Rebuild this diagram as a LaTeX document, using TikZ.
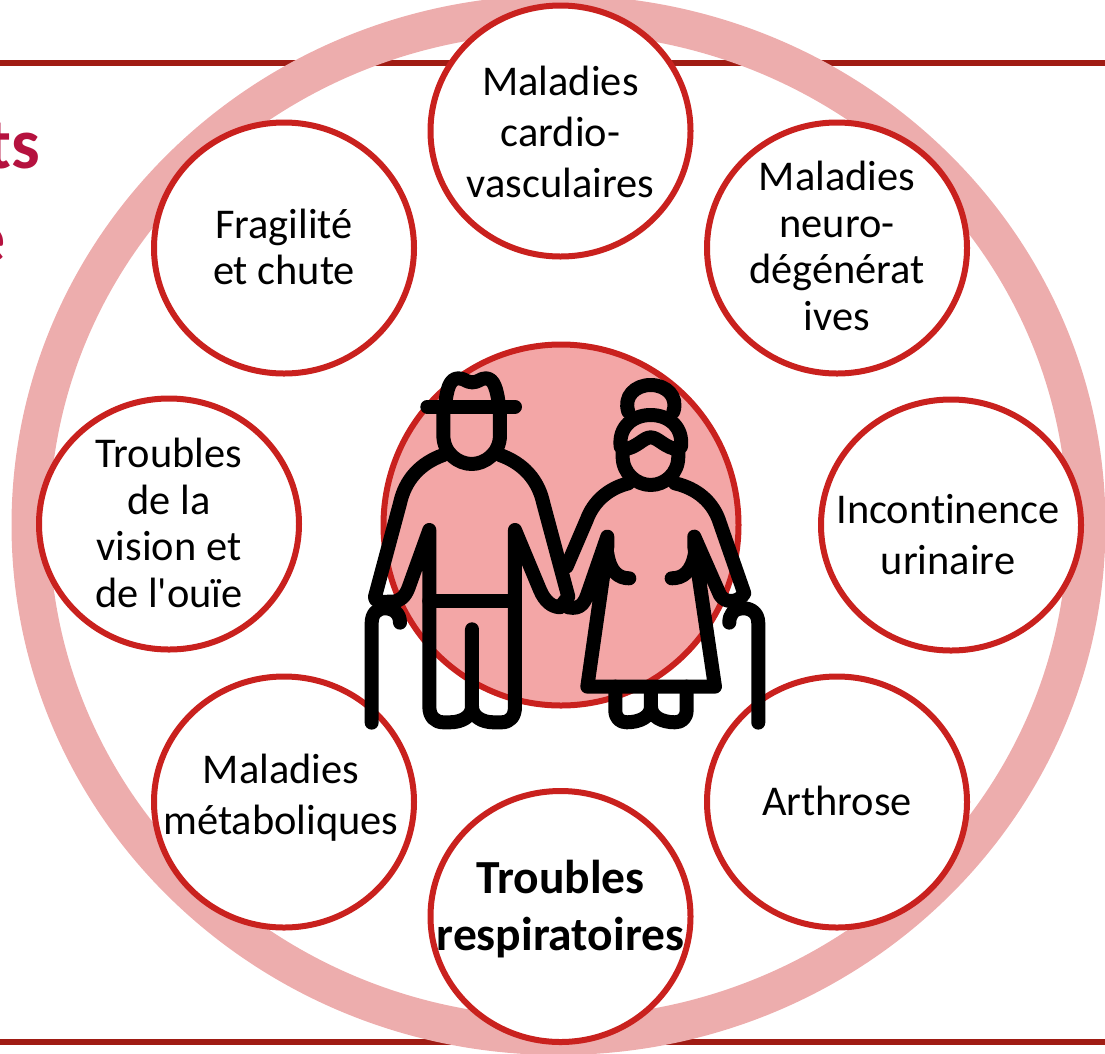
\documentclass[tikz,border=0pt]{standalone}
\usepackage{fontspec}
\setmainfont{Carlito}[Ligatures=NoCommon]
\usetikzlibrary{calc}
\usetikzlibrary{shapes.geometric}
\definecolor{ringpink}{HTML}{EDADAD}
\definecolor{strokered}{HTML}{C9211E}
\definecolor{rulered}{HTML}{A01C14}
\definecolor{corepink}{HTML}{F3A6A6}
\definecolor{titlered}{HTML}{B5123F}
\tikzstyle{ringnode} = [draw=ringpink, ellipse, line width=38pt, minimum width=1056pt, minimum height=1022pt, inner sep=0pt, outer sep=0pt]
\tikzstyle{corenode} = [draw=strokered, fill=corepink, ellipse, line width=6pt, minimum width=355pt, minimum height=361pt, inner sep=0pt]
\tikzstyle{illnode} = [draw=strokered, fill=white, ellipse, line width=6pt, minimum width=260pt, minimum height=251pt, inner sep=0pt]
\tikzstyle{illtext} = [align=center, inner sep=0pt, font=\fontsize{42.4}{51}\selectfont]
\tikzstyle{illtight} = [align=center, inner sep=0pt, font=\fontsize{42.4}{46.5}\selectfont]
\tikzstyle{illbold} = [align=center, inner sep=0pt, font=\fontsize{47.5}{57}\selectfont\bfseries]
\tikzstyle{titlebit} = [text=titlered, inner sep=0pt, font=\fontsize{72}{80}\selectfont\bfseries]
\tikzstyle{rulebar} = [draw=rulered, line width=5.5pt]
\tikzstyle{figline} = [draw=black, line width=14pt, line cap=round, line join=round]

\begin{document}
\begin{tikzpicture}[x=1pt, y=-1pt]
    \useasboundingbox (0,0) rectangle (1105,1053);

    \coordinate (top_left) at (0,63);
    \coordinate (top_right) at (1105,63);
    \coordinate (bot_left) at (0,1042);
    \coordinate (bot_right) at (1105,1042);
    \draw[rulebar] (top_left) -- (top_right);
    \draw[rulebar] (bot_left) -- (bot_right);

    \node[titlebit, anchor=base east] (title_ts) at (40,168) {ts};
    \node[titlebit, anchor=base east] (title_e) at (6,262) {e};

    \node[ringnode] (ring) at (558.5,525) {};
    \node[corenode] (core) at (561,525) {};

    \node[illnode, label={[illtext, yshift=-1pt]center:{Maladies\\cardio-\\vasculaires}}] (cardio) at (560.5,131) {};
    \node[illnode, label={[illtight, yshift=2pt]center:{Maladies\\neuro-\\dégénérat\\ives}}] (neuro) at (837,248) {};
    \node[illnode, label={[illtext, xshift=-3pt, yshift=-10pt]center:{Incontinence\\urinaire}}] (incont) at (951,525) {};
    \node[illnode, label={[illtext, yshift=1pt]center:Arthrose}] (arthrose) at (837,802) {};
    \node[illnode, label={[illbold, yshift=7pt]center:{Troubles\\respiratoires}}] (respi) at (560.5,916.5) {};
    \node[illnode, label={[illtext, xshift=-3pt, yshift=4pt]center:{Maladies\\métaboliques}}] (metabo) at (284,802) {};
    \node[illnode, label={[illtight, yshift=1pt]center:{Troubles\\de la\\vision et\\de l\textquotesingle ouïe}}] (vision) at (169,524) {};
    \node[illnode, label={[illtight, yshift=1pt]center:{Fragilité\\et chute}}] (fragile) at (284,248) {};

    % man and woman
    \begin{scope}[shift={(350,340)}, x=0.3333pt, y=-0.3333pt]
        \draw[figline] (232,200) -- (495,200);
        \draw[figline] (285,200) .. controls (290,150) and (298,115) .. (325,115) .. controls (345,115) and (348,127) .. (367,127) .. controls (386,127) and (390,115) .. (408,115) .. controls (432,115) and (442,150) .. (447,200);
        \draw[figline] (280,205) -- (280,285) .. controls (280,340) and (325,372) .. (365,372) .. controls (405,372) and (450,340) .. (450,285) -- (450,205);
        \draw[figline] (280,345) .. controls (210,370) and (165,420) .. (150,490) -- (75,770) .. controls (75,790) and (100,785) .. (125,785) .. controls (150,785) and (165,770) .. (175,745) -- (238,570) -- (238,1100) .. controls (238,1130) and (255,1147) .. (280,1147) -- (300,1147) .. controls (335,1147) and (366,1130) .. (366,1100) -- (366,868);
        \draw[figline] (366,1100) .. controls (366,1130) and (397,1147) .. (430,1147) -- (455,1147) .. controls (480,1147) and (495,1130) .. (495,1100) -- (495,570) -- (570,750) .. controls (585,785) and (605,800) .. (630,802) -- (655,770) -- (580,490) .. controls (565,420) and (520,370) .. (450,345);
        \draw[figline] (238,782) -- (495,782);
        \draw[figline] (65,1148) -- (65,850) .. controls (65,820) and (82,805) .. (105,805) .. controls (130,805) and (150,820) .. (150,848);
        \draw[figline] (835,215) .. controls (820,170) and (855,135) .. (902,135) .. controls (950,135) and (985,170) .. (970,215);
        \draw[figline] (812,320) .. controls (805,260) and (850,225) .. (902,225) .. controls (955,225) and (1000,260) .. (993,320);
        \draw[figline] (820,328) .. controls (860,325) and (880,292) .. (902,292) .. controls (925,292) and (945,325) .. (985,328);
        \draw[figline] (818,320) -- (818,350) .. controls (818,400) and (860,435) .. (902,435) .. controls (945,435) and (985,400) .. (985,350) -- (985,320);
        \draw[figline] (835,430) .. controls (775,445) and (730,485) .. (710,540) -- (650,680);
        \draw[figline] (655,802) .. controls (695,810) and (705,785) .. (715,755) -- (772,590) -- (772,620) -- (712,1040) -- (1095,1040) -- (1033,620) -- (1033,590) -- (1110,765) .. controls (1125,790) and (1165,790) .. (1183,760) -- (1110,550) .. controls (1090,485) and (1040,445) .. (975,430);
        \draw[figline] (772,640) .. controls (780,695) and (805,715) .. (838,715);
        \draw[figline] (965,715) .. controls (1000,715) and (1025,695) .. (1035,640);
        \draw[figline] (796,1040) -- (796,1110) .. controls (796,1135) and (810,1147) .. (830,1147) .. controls (870,1147) and (903,1130) .. (903,1100) -- (903,1045);
        \draw[figline] (903,1100) .. controls (903,1130) and (935,1147) .. (975,1147) .. controls (995,1147) and (1010,1135) .. (1010,1110) -- (1010,1040);
        \draw[figline] (1225,1148) -- (1225,850) .. controls (1225,820) and (1205,805) .. (1180,805) .. controls (1150,805) and (1138,825) .. (1138,848);
    \end{scope}
\end{tikzpicture}
\end{document}
